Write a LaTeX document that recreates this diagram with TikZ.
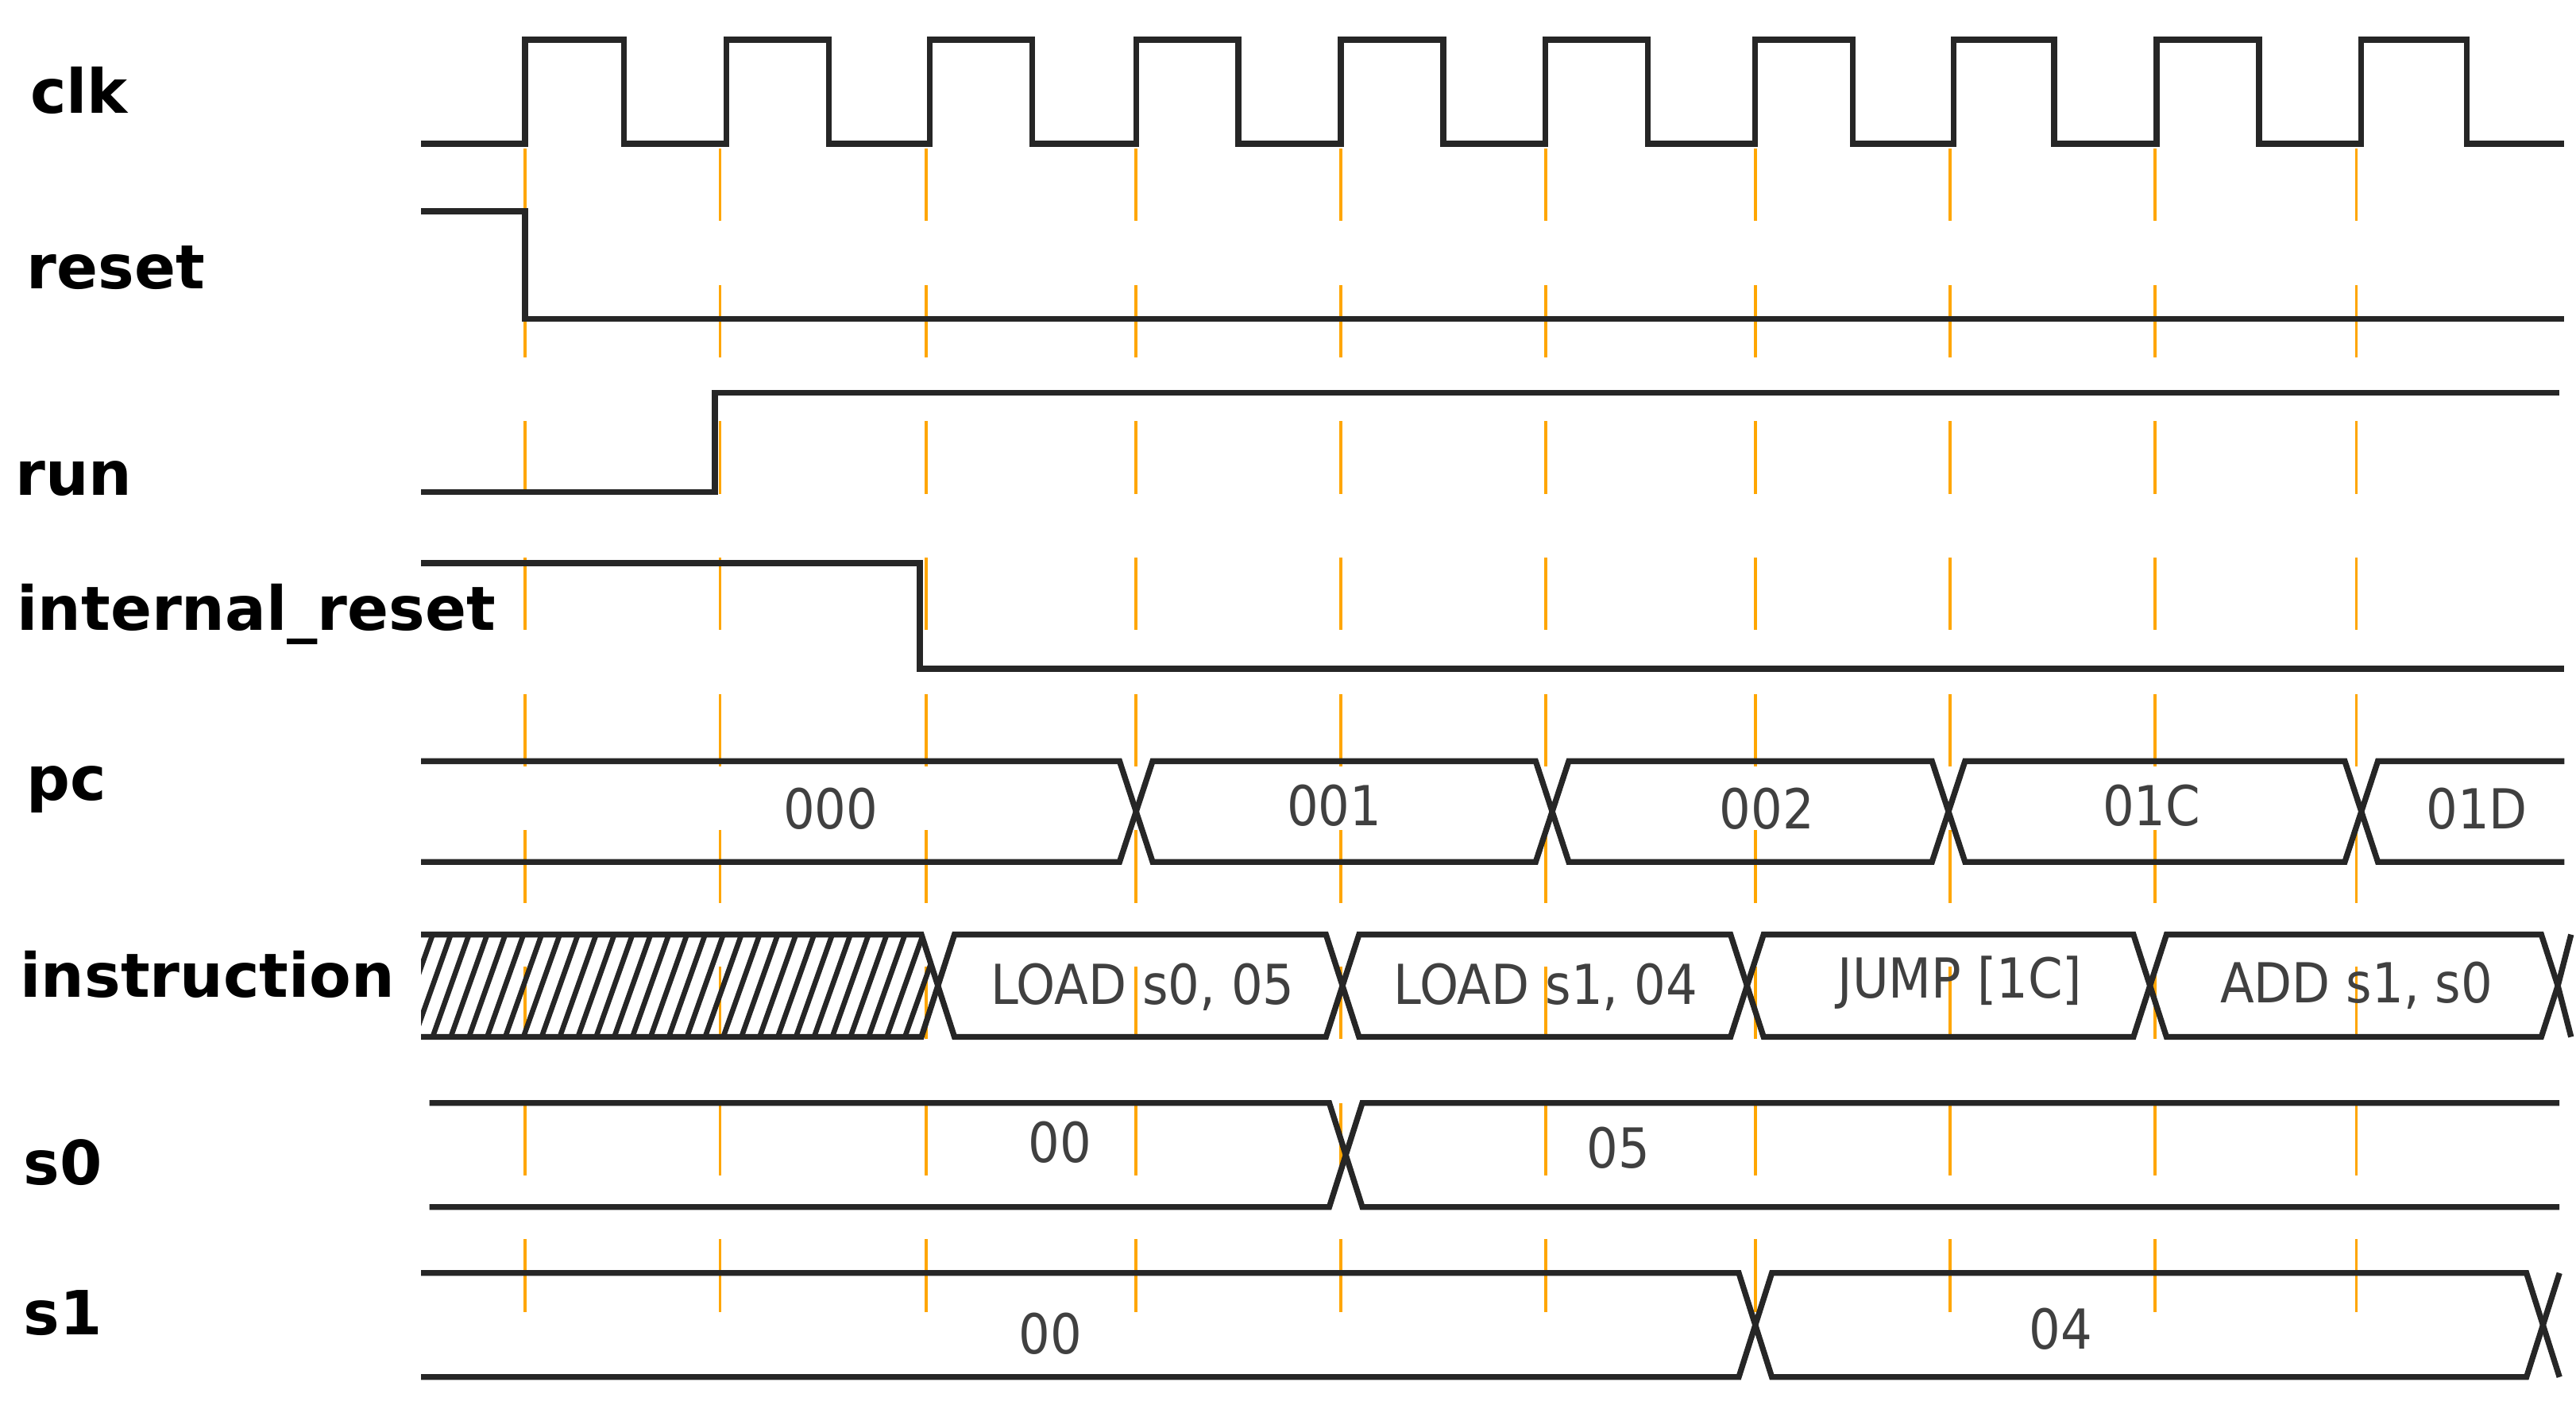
\documentclass[tikz,border=0pt]{standalone}
\usepackage{fontspec}
\setmainfont{DejaVu Sans}
\newfontfamily\valfont{DejaVu Sans Condensed}
\begin{document}
\begin{tikzpicture}[x=0.02cm,y=-0.02cm,
  wave/.style={line width=2pt,black!85,line join=miter},
  guide/.style={line width=1pt,orange!70!yellow,dash pattern=on 25pt off 22pt},
  sig/.style={font=\bfseries\fontsize{21}{23}\selectfont,anchor=west,inner sep=0},
  val/.style={font=\valfont\fontsize{19}{21}\selectfont,text=black!75,inner sep=0}]
\useasboundingbox (0,0) rectangle (1560,853);
\newcommand{\hexseg}[5]{% a b top bot h
  \pgfmathsetmacro{\mm}{(#3+#4)/2}
  \draw[wave] (#1+#5,#3)--(#2-#5,#3)--(#2,\mm)--(#2-#5,#4)--(#1+#5,#4)--(#1,\mm)--cycle;}
% guides
\foreach \gx in {318,436,561,688,812,936,1063,1181,1305,1427}
  \draw[guide] (\gx,90) -- (\gx,800);
% labels
\node[sig] (lclk) at (18,55) {clk};
\node[sig] (lreset) at (16,162) {reset};
\node[sig] (lrun) at (9,290) {run};
\node[sig] (lint) at (10,372) {internal\_reset};
\node[sig] (lpc) at (16,478) {pc};
\node[sig] (linstr) at (12,590) {instruction};
\node[sig] (ls0) at (14,704) {s0};
\node[sig] (ls1) at (14,795) {s1};
% clk
\draw[wave] (255,87)
  \foreach \r/\f in {318/378,440/502,563/625,688/750,812/874,936/998,1063/1122,1183/1244,1306/1368,1430/1494}
  { -- (\r,87) -- (\r,24) -- (\f,24) -- (\f,87) } -- (1553,87);
% reset
\draw[wave] (255,128) -- (318,128) -- (318,193) -- (1553,193);
% run
\draw[wave] (255,298) -- (433,298) -- (433,238) -- (1550,238);
% internal_reset
\draw[wave] (255,341) -- (557,341) -- (557,405) -- (1553,405);
% pc
\draw[wave] (255,461) -- (678,461) -- (688,491.5) -- (678,522) -- (255,522);
\hexseg{688}{940}{461}{522}{10}
\hexseg{940}{1180}{461}{522}{10}
\hexseg{1180}{1430}{461}{522}{10}
\draw[wave] (1553,461) -- (1440,461) -- (1430,491.5) -- (1440,522) -- (1553,522);
\node[val] (v000) at (503,490) {000};
\node[val] (v001) at (808,488) {001};
\node[val] (v002) at (1070,490) {002};
\node[val] (v01C) at (1303,488) {01C};
\node[val] (v01D) at (1500,490) {01D};
% instruction
\begin{scope}
\clip (255,566) -- (558,566) -- (568,597) -- (558,628) -- (255,628) -- cycle;
\foreach \k in {0,...,32}
  \draw[line width=1.8pt,black!85] (240+\k*11,628) -- (262+\k*11,566);
\end{scope}
\draw[wave] (255,566) -- (558,566) -- (568,597) -- (558,628) -- (255,628);
\hexseg{568}{813}{566}{628}{10}
\hexseg{813}{1058}{566}{628}{10}
\hexseg{1058}{1302}{566}{628}{10}
\hexseg{1302}{1549}{566}{628}{10}
\draw[wave] (1557,566) -- (1549,597) -- (1557,628);
\node[val] (i1) at (692,598) {LOAD s0, 05};
\node[val] (i2) at (936,598) {LOAD s1, 04};
\node[val] (i3) at (1187,595) {JUMP [1C]};
\node[val] (i4) at (1427,597) {ADD s1, s0};
% s0
\draw[wave] (260,668) -- (805,668) -- (815,699.5) -- (805,731) -- (260,731);
\draw[wave] (1550,668) -- (825,668) -- (815,699.5) -- (825,731) -- (1550,731);
\node[val] (s0a) at (642,692) {00};
\node[val] (s0b) at (980,695) {05};
% s1
\draw[wave] (255,771) -- (1053,771) -- (1063,802.5) -- (1053,834) -- (255,834);
\hexseg{1063}{1540}{771}{834}{10}
\draw[wave] (1550,771) -- (1540,802.5) -- (1550,834);
\node[val] (s1a) at (636,808) {00};
\node[val] (s1b) at (1248,805) {04};
\end{tikzpicture}
\end{document}
